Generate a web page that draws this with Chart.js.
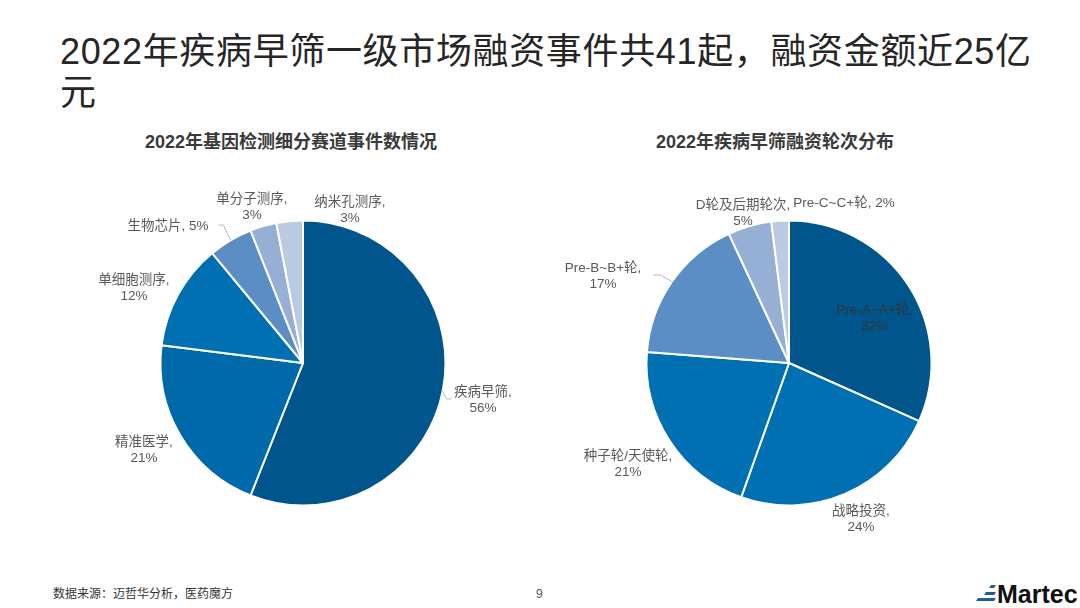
<!DOCTYPE html>
<html>
<head>
<meta charset="utf-8">
<script src="https://cdn.jsdelivr.net/npm/chart.js@4"></script>
<style>
    html, body { margin: 0; padding: 0; background: #fff; }
    body { width: 1080px; height: 608px; position: relative; overflow: hidden;
           font-family: "Liberation Sans", "Noto Sans CJK SC", sans-serif; }
    .abs { position: absolute; white-space: nowrap; }
    canvas { position: absolute; }
    #title { left: 60px; top: 31px; width: 985px; white-space: normal; font-size: 36px; line-height: 41px; color: #262626; letter-spacing: 0.65px; }
    .sub { top: 131px; font-size: 18px; line-height: 22px; font-weight: bold; color: #3a3a3a; text-align: center; }
    #source { left: 53px; top: 586px; font-size: 12px; line-height: 16px; color: #333; }
    #page { left: 536px; top: 587px; font-size: 12px; line-height: 14px; color: #555; }
    #logo { left: 997px; top: 580px; font-size: 25px; line-height: 28px; font-weight: bold; color: #111; }
    .bar { position: absolute; background: #1f5c99; height: 3px; transform: skewX(-30deg); }
</style>
</head>
<body>
<div class="abs" id="title">2022年疾病早筛一级市场融资事件共41起，融资金额近25亿元</div>
<div class="abs sub" style="left:141px;width:300px">2022年基因检测细分赛道事件数情况</div>
<div class="abs sub" style="left:625px;width:300px">2022年疾病早筛融资轮次分布</div>
<canvas id="leftPie" width="480" height="420" style="left:62.5px;top:153px"></canvas>
<canvas id="rightPie" width="480" height="420" style="left:548.5px;top:153px"></canvas>
<div class="abs" id="source">数据来源：迈哲华分析，医药魔方</div>
<div class="abs" id="page">9</div>
<div class="bar" style="left:990px;top:585px;width:5px"></div>
<div class="bar" style="left:985px;top:592px;width:10px"></div>
<div class="bar" style="left:977px;top:598px;width:18px"></div>
<div class="abs" id="logo">Martec</div>
<script>
// 左图数据
const leftCategories = ["疾病早筛", "精准医学", "单细胞测序", "生物芯片", "单分子测序", "纳米孔测序"];
const leftValues = [56, 21, 12, 5, 3, 3];
const leftLabelLines = [["疾病早筛,", "56%"], ["精准医学,", "21%"], ["单细胞测序,", "12%"], ["生物芯片, 5%"], ["单分子测序,", "3%"], ["纳米孔测序,", "3%"]];

// 右图数据
const rightCategories = ["Pre-A~A+轮", "战略投资", "种子轮/天使轮", "Pre-B~B+轮", "D轮及后期轮次", "Pre-C~C+轮"];
const rightValues = [32, 24, 21, 17, 5, 2];
const rightLabelLines = [["Pre-A~A+轮,", "32%"], ["战略投资,", "24%"], ["种子轮/天使轮,", "21%"], ["Pre-B~B+轮,", "17%"], ["D轮及后期轮次,", "5%"], ["Pre-C~C+轮, 2%"]];

const sliceColors = ["#00568C", "#0070B3", "#0070B3", "#5B8EC5", "#96AFD5", "#BBC9E2"];
const leftColors = ["#00568C", "#0069AA", "#0070B3", "#5B8EC5", "#96AFD5", "#BBC9E2"];

// 标签位置：相对饼图圆心的偏移
const leftLabelPos = [[180, 37], [-159, 87], [-169, -75], [-135, -137], [-51, -156], [47, -153]];
const rightLabelPos = [[85.5, -45], [72, 156], [-161, 101], [-186, -87], [-46, -150], [55, -160]];

// 引导线
const leftLeaders = [[[138.5, 27], [143.5, 36], [148.5, 36]], [[-84.5, -138], [-79.5, -138], [-72.5, -123]]];
const rightLeaders = [[[-135.5, -88], [-128.5, -88], [-116.5, -81]]];

const labelPlugin = {
    id: "pieLabels",
    afterDatasetsDraw(chart, args, opts) {
        const ctx = chart.ctx;
        const meta = chart.getDatasetMeta(0).data[0];
        const cx = meta.x, cy = meta.y;
        ctx.save();
        ctx.strokeStyle = "#b8b8b8";
        ctx.lineWidth = 1;
        opts.leaders.forEach(function(pts) {
            ctx.beginPath();
            pts.forEach(function(p, i) {
                if (i === 0) ctx.moveTo(cx + p[0], cy + p[1]);
                else ctx.lineTo(cx + p[0], cy + p[1]);
            });
            ctx.stroke();
        });
        ctx.font = '13.5px "Liberation Sans", "Noto Sans CJK SC", sans-serif';
        ctx.textAlign = "center";
        ctx.textBaseline = "middle";
        opts.lines.forEach(function(lines, i) {
            ctx.fillStyle = opts.colors[i] || "#595959";
            lines.forEach(function(text, k) {
                ctx.fillText(text, cx + opts.pos[i][0], cy + opts.pos[i][1] + k * 16 - (lines.length - 1) * 8);
            });
        });
        ctx.restore();
    }
};

function makePie(id, categories, values, colors, lines, pos, leaders, labelColors) {
    return new Chart(document.getElementById(id), {
        type: "pie",
        data: {
            labels: categories,
            datasets: [{ data: values, backgroundColor: colors, borderColor: "#ffffff", borderWidth: 2 }]
        },
        options: {
            responsive: false,
            animation: false,
            radius: 142.5,
            plugins: {
                legend: { display: false },
                tooltip: { enabled: false },
                pieLabels: { lines: lines, pos: pos, leaders: leaders, colors: labelColors }
            }
        },
        plugins: [labelPlugin]
    });
}

makePie("leftPie", leftCategories, leftValues, leftColors, leftLabelLines, leftLabelPos, leftLeaders, []);
makePie("rightPie", rightCategories, rightValues, sliceColors, rightLabelLines, rightLabelPos, rightLeaders, ["#333333"]);
</script>
</body>
</html>
